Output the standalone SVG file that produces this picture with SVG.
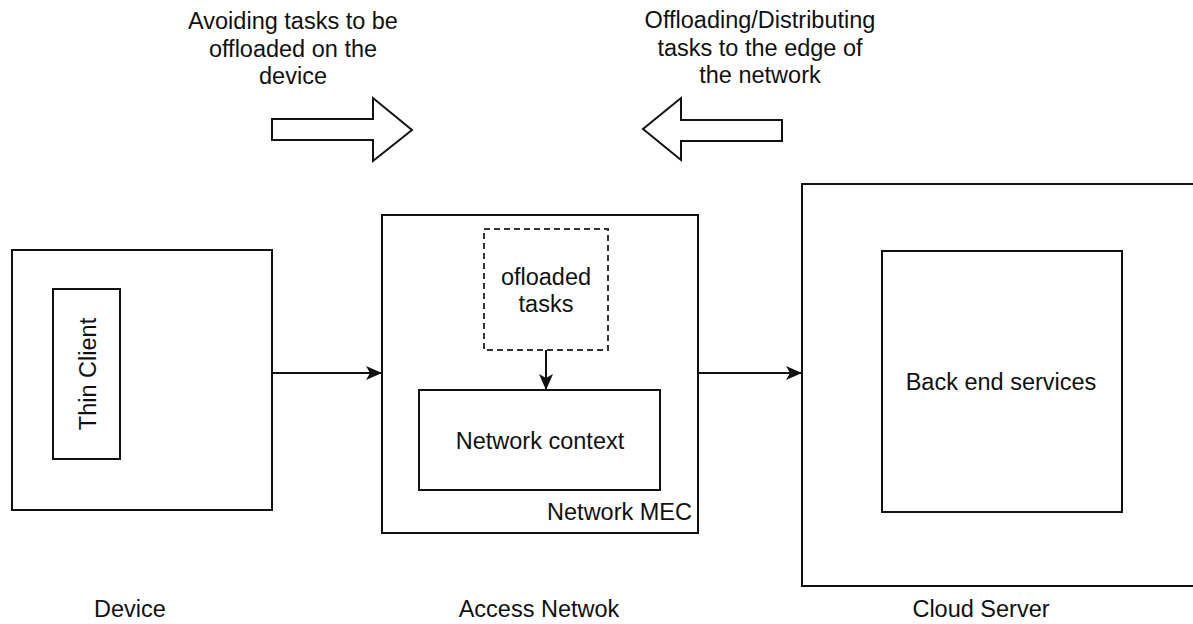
<svg xmlns="http://www.w3.org/2000/svg" width="1193" height="624" viewBox="0 0 1193 624">
  <style>
    .box { fill: #ffffff; stroke: #111111; stroke-width: 2; }
    .dash { fill: #ffffff; stroke: #333333; stroke-width: 2; stroke-dasharray: 6 4; }
    .big { fill: #ffffff; stroke: #111111; stroke-width: 2; stroke-linejoin: miter; }
    .wire { fill: none; stroke: #111111; stroke-width: 2; }
    text { font-family: "Liberation Sans", Arial, sans-serif; font-size: 23.5px; fill: #111111; text-anchor: middle; }
  </style>
  <defs>
    <marker id="head" viewBox="0 0 16 16" markerWidth="16" markerHeight="16" refX="15" refY="8" orient="auto" markerUnits="userSpaceOnUse">
      <path d="M0,1 L16,8 L0,15 L4,8 Z" fill="#111111"/>
    </marker>
  </defs>

  <rect width="1193" height="624" fill="#ffffff"/>

  <!-- top captions with hollow block arrows -->
  <g id="caption-device">
    <text x="293" y="29">Avoiding tasks to be</text>
    <text x="293" y="57">offloaded on the</text>
    <text x="293" y="84">device</text>
  </g>
  <g id="arrow-right">
    <path class="big" d="M272,119 L373,119 L373,98 L412,130 L373,161 L373,140 L272,140 Z"/>
  </g>
  <g id="caption-edge">
    <text x="760" y="28">Offloading/Distributing</text>
    <text x="760" y="56">tasks to the edge of</text>
    <text x="760" y="83">the network</text>
  </g>
  <g id="arrow-left">
    <path class="big" d="M782,120 L681,120 L681,98 L643,129 L681,160 L681,141 L782,141 Z"/>
  </g>

  <!-- Device -->
  <g id="device">
    <rect class="box" x="12" y="250" width="260" height="260"/>
  </g>
  <g id="thin-client">
    <rect class="box" x="53" y="289" width="67" height="170"/>
    <text transform="translate(96,374) rotate(-90)">Thin Client</text>
  </g>

  <!-- Access network edge node -->
  <g id="network-mec">
    <rect class="box" x="382" y="215" width="316" height="318"/>
    <text x="692" y="520" style="text-anchor:end">Network MEC</text>
  </g>
  <g id="offloaded-tasks">
    <rect class="dash" x="484" y="229" width="124" height="121"/>
    <text x="546" y="285">ofloaded</text>
    <text x="546" y="312">tasks</text>
  </g>
  <g id="network-context">
    <rect class="box" x="419" y="390" width="241" height="100"/>
    <text x="540" y="449">Network context</text>
  </g>

  <!-- Cloud -->
  <g id="cloud-server">
    <rect class="box" x="802" y="184" width="400" height="402"/>
  </g>
  <g id="back-end">
    <rect class="box" x="882" y="251" width="240" height="261"/>
    <text x="1001" y="390">Back end services</text>
  </g>

  <!-- bottom labels -->
  <g id="label-device"><text x="130" y="617">Device</text></g>
  <g id="label-access"><text x="539" y="617">Access Netwok</text></g>
  <g id="label-cloud"><text x="981" y="617">Cloud Server</text></g>

  <!-- connectors -->
  <g id="connectors">
    <line class="wire" x1="272" y1="373" x2="381" y2="373" marker-end="url(#head)"/>
    <line class="wire" x1="698" y1="373" x2="801" y2="373" marker-end="url(#head)"/>
    <line class="wire" x1="546" y1="350" x2="546" y2="389" marker-end="url(#head)"/>
  </g>
</svg>
